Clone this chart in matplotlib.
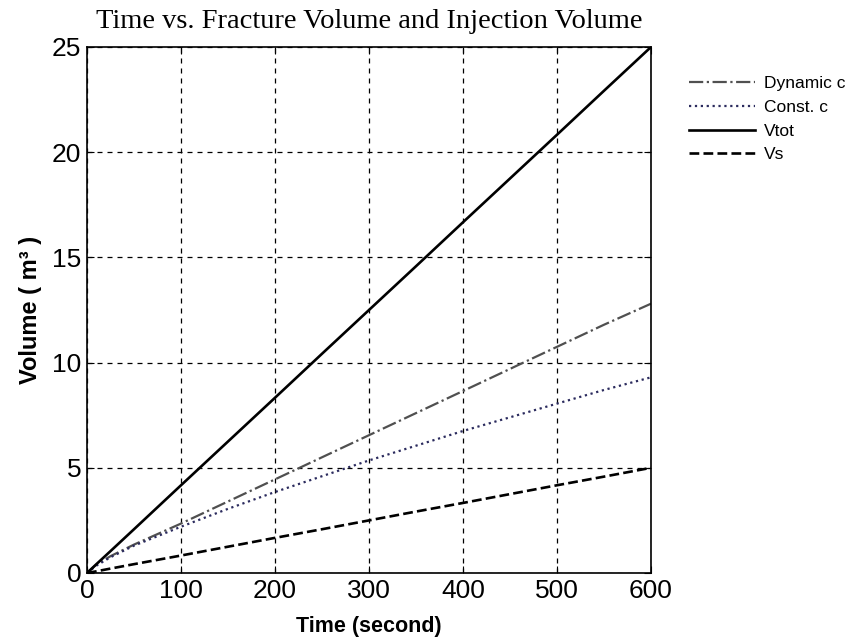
import numpy as np
import matplotlib
matplotlib.use('Agg')
import matplotlib.pyplot as plt

t = [0, 10, 25, 50, 100, 150, 200, 250, 300, 350, 400, 450, 500, 550, 600]
v_dyn = [0, 0.4, 0.8, 1.35, 2.35, 3.4, 4.45, 5.5, 6.55, 7.6, 8.65, 9.7, 10.75, 11.8, 12.8]
v_const = [0, 0.35, 0.75, 1.3, 2.2, 3.05, 3.85, 4.6, 5.35, 6.05, 6.75, 7.4, 8.05, 8.7, 9.3]
v_tot = [0, 0.42, 1.04, 2.08, 4.17, 6.25, 8.33, 10.42, 12.5, 14.58, 16.67, 18.75, 20.83, 22.92, 25.0]
v_s = [0, 0.08, 0.21, 0.42, 0.83, 1.25, 1.67, 2.08, 2.5, 2.92, 3.33, 3.75, 4.17, 4.58, 5.0]

plt.rcParams['font.family'] = ['Liberation Sans', 'DejaVu Sans']

fig = plt.figure(figsize=(8.53, 6.4), dpi=100)
ax = fig.add_axes([87 / 853, 1 - 573 / 640, 564 / 853, 526 / 640])

ax.plot(t, v_dyn, color='#505050', linestyle='-.', linewidth=1.6, label='Dynamic c')
ax.plot(t, v_const, color='#2b2b5e', linestyle=':', linewidth=1.6, label='Const. c')
ax.plot(t, v_tot, color='black', linestyle='-', linewidth=1.9, label='Vtot')
ax.plot(t, v_s, color='black', linestyle='--', linewidth=1.9, label='Vs')

ax.set_xlim(0, 600)
ax.set_ylim(0, 25)
ax.set_xticks(range(0, 601, 100))
ax.set_yticks(range(0, 26, 5))
ax.tick_params(labelsize=19, direction='in', length=5, top=True, right=True, pad=4)
ax.grid(True, color='black', linestyle=(0, (4, 4)), linewidth=0.9)
for s in ax.spines.values():
    s.set_linewidth(1.2)

ax.set_xlabel('Time (second)', fontsize=15.5, fontweight='bold', labelpad=10)
ax.set_ylabel('Volume ( m³ )', fontsize=17, fontweight='bold', labelpad=7)
ax.set_title('Time vs. Fracture Volume and Injection Volume', fontsize=20.5,
             family='Liberation Serif', pad=14)

ax.legend(loc='upper left', bbox_to_anchor=(1.040, 0.975), frameon=False,
          fontsize=12.5, handlelength=3.8, handletextpad=0.5, labelspacing=0.5)

fig.savefig('out.png', dpi=100)
